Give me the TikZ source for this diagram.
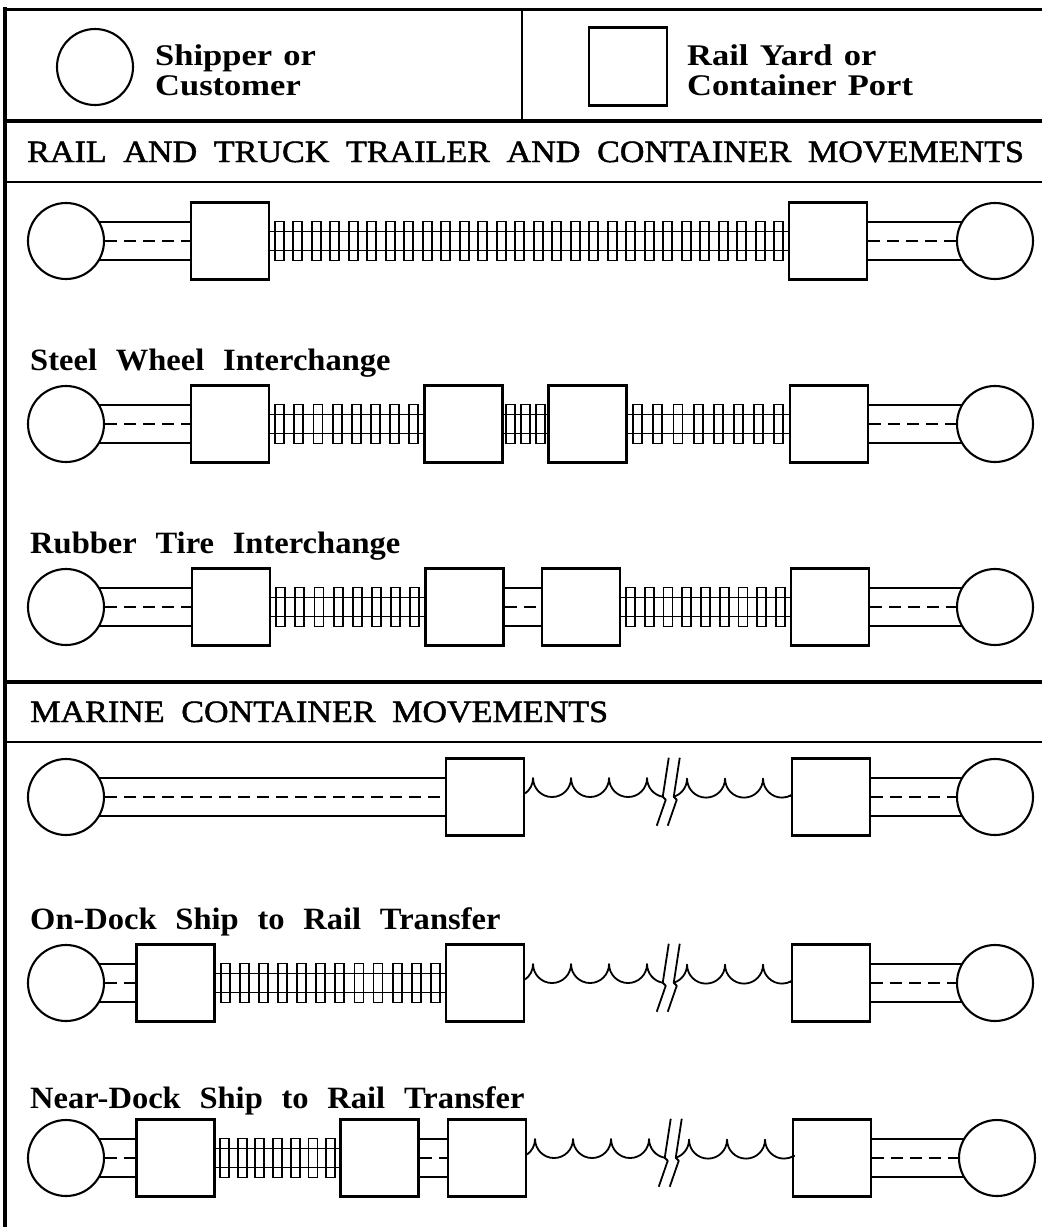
\documentclass[tikz,border=0pt]{standalone}
\usepackage{fontspec}
\setmainfont{Liberation Serif}
\newfontfamily\keyfont[FakeStretch=1.15,WordSpace=1.3]{Liberation Serif}
\newfontfamily\headfont[FakeStretch=1.1,WordSpace=1.95,FakeBold=1.5]{Liberation Serif}
\newfontfamily\labelfont[FakeStretch=1.05,WordSpace=2.3]{Liberation Serif}
\usetikzlibrary{calc,backgrounds}

\tikzset{
  shipper/.style={circle, draw, line width=2.1pt, fill=white, minimum size=76pt, inner sep=0pt},
  yard/.style={rectangle, draw, line width=2.1pt, fill=white, minimum width=78pt, minimum height=77pt, inner sep=0pt},
  roadedge/.style={line width=1.8pt},
  lane/.style={line width=2pt, dash pattern=on 12pt off 7pt},
  railline/.style={line width=1.8pt},
  tie/.style={line width=1.8pt},
  wave/.style={line width=1.8pt, line join=round},
  keytext/.style={anchor=base west, inner sep=0pt, font=\keyfont\bfseries\fontsize{30}{32}\selectfont},
  headtext/.style={anchor=base west, inner sep=0pt, font=\headfont\fontsize{31}{33}\selectfont},
  modetext/.style={anchor=base west, inner sep=0pt, font=\labelfont\bfseries\fontsize{31}{33}\selectfont},
}

% truck haul: two edges and a dashed lane
\newcommand{\road}[2]{%
  \begin{scope}[on background layer]
    \draw[roadedge] ([yshift=19pt]#1.center) -- ([yshift=19pt]#2.center);
    \draw[roadedge] ([yshift=-19pt]#1.center) -- ([yshift=-19pt]#2.center);
  \end{scope}
  \draw[lane] (#1.east) -- (#2.west);}

% rail haul: two rails and #3 ties
\newcommand{\rail}[3]{%
  \begin{scope}[on background layer]
    \draw[railline] ([yshift=9.5pt]#1.center) -- ([yshift=9.5pt]#2.center);
    \draw[railline] ([yshift=-9.5pt]#1.center) -- ([yshift=-9.5pt]#2.center);
  \end{scope}
  \foreach \i in {1,...,#3}
    \draw[tie] ($(#1.east)!{(\i-0.5)/#3}!(#2.west)$) +(-4.5,-19.5) rectangle +(4.5,19.5);}

% ocean leg with a break mark
\newcommand{\sea}[2]{%
  \draw[wave] ([yshift=3.5pt]#1.east) arc[start angle=54.6, end angle=0, radius=19]
    arc[start angle=180, end angle=0, radius=19]
    arc[start angle=180, end angle=0, radius=19]
    arc[start angle=180, end angle=0, radius=19]
    arc[start angle=180, end angle=100, radius=19] coordinate (#1brk);
  \draw[wave] ($(#1brk)+(6,-39)$) -- (#1brk) -- ++(3,3) -- ++(-9,26);
  \draw[wave] ($(#1brk)+(17,-39)$) -- ++(-6,39) coordinate (#1gap) -- ++(3,3) -- ++(-9,26);
  \draw[wave] (#1gap) arc[start angle=72.5, end angle=0, radius=19]
    arc[start angle=180, end angle=0, radius=19]
    arc[start angle=180, end angle=0, radius=19]
    arc[start angle=180, end angle=58, radius=19] -- (#2.west);}

\begin{document}
\begin{tikzpicture}[x=1pt, y=-1pt]
  \useasboundingbox (0,0) rectangle (1042,1227);
  % frame
  \draw[line width=4pt] (5,7) -- (5,1227);
  \draw[line width=3pt] (5,9) -- (1042,9);
  \draw[line width=2pt] (522,9) -- (522,121);
  \draw[line width=4pt] (5,121) -- (1042,121);
  \draw[line width=2.5pt] (5,182) -- (1042,182);
  \draw[line width=4pt] (5,682) -- (1042,682);
  \draw[line width=2.5pt] (5,742) -- (1042,742);

  % key
  \node[shipper] (keyship) at (95,67) {};
  \node[keytext] (keyshipa) at (155,65) {Shipper or};
  \node[keytext] (keyshipb) at (155,95) {Customer};
  \node[yard, minimum height=78pt] (keyyard) at (628,66.5) {};
  \node[keytext] (keyyarda) at (687,65) {Rail Yard or};
  \node[keytext] (keyyardb) at (687,95) {Container Port};

  \node[headtext] (headrail) at (27,162) {RAIL AND TRUCK TRAILER AND CONTAINER MOVEMENTS};

  % through train
  \node[shipper] (s1l) at (66,241) {};
  \node[yard] (y1a) at (230,241) {};
  \node[yard] (y1b) at (828,241) {};
  \node[shipper] (s1r) at (995,241) {};
  \road{s1l}{y1a} \rail{y1a}{y1b}{28} \road{y1b}{s1r}

  % steel wheel interchange
  \node[modetext] (steel) at (30,370) {Steel Wheel Interchange};
  \node[shipper] (s2l) at (66,424) {};
  \node[yard] (y2a) at (230,424) {};
  \node[yard] (y2b) at (463.5,424) {};
  \node[yard] (y2c) at (587.5,424) {};
  \node[yard] (y2d) at (829,424) {};
  \node[shipper] (s2r) at (995,424) {};
  \road{s2l}{y2a} \rail{y2a}{y2b}{8} \rail{y2b}{y2c}{3} \rail{y2c}{y2d}{8} \road{y2d}{s2r}

  % rubber tire interchange
  \node[modetext] (rubber) at (30,553) {Rubber Tire Interchange};
  \node[shipper] (s3l) at (66,607) {};
  \node[yard] (y3a) at (231,607) {};
  \node[yard] (y3b) at (464.5,607) {};
  \node[yard] (y3c) at (581,607) {};
  \node[yard] (y3d) at (830,607) {};
  \node[shipper] (s3r) at (995,607) {};
  \road{s3l}{y3a} \rail{y3a}{y3b}{8} \road{y3b}{y3c} \rail{y3c}{y3d}{9} \road{y3d}{s3r}

  \node[headtext] (headsea) at (30,722) {MARINE CONTAINER MOVEMENTS};

  % truck to port
  \node[shipper] (s4l) at (66,797) {};
  \node[yard] (y4a) at (485,797) {};
  \node[yard] (y4b) at (831,797) {};
  \node[shipper] (s4r) at (995,797) {};
  \road{s4l}{y4a} \sea{y4a}{y4b} \road{y4b}{s4r}

  % on-dock transfer
  \node[modetext] (ondock) at (30,929) {On-Dock Ship to Rail Transfer};
  \node[shipper] (s5l) at (66,983) {};
  \node[yard] (y5a) at (175.5,983) {};
  \node[yard] (y5b) at (485,983) {};
  \node[yard] (y5c) at (831,983) {};
  \node[shipper] (s5r) at (995,983) {};
  \road{s5l}{y5a} \rail{y5a}{y5b}{12} \sea{y5b}{y5c} \road{y5c}{s5r}

  % near-dock transfer
  \node[modetext] (neardock) at (30,1108) {Near-Dock Ship to Rail Transfer};
  \node[shipper] (s6l) at (66,1158) {};
  \node[yard] (y6a) at (175.5,1158) {};
  \node[yard] (y6b) at (379.5,1158) {};
  \node[yard] (y6c) at (487,1158) {};
  \node[yard] (y6d) at (832,1158) {};
  \node[shipper] (s6r) at (997,1158) {};
  \road{s6l}{y6a} \rail{y6a}{y6b}{7} \road{y6b}{y6c} \sea{y6c}{y6d} \road{y6d}{s6r}
\end{tikzpicture}
\end{document}
